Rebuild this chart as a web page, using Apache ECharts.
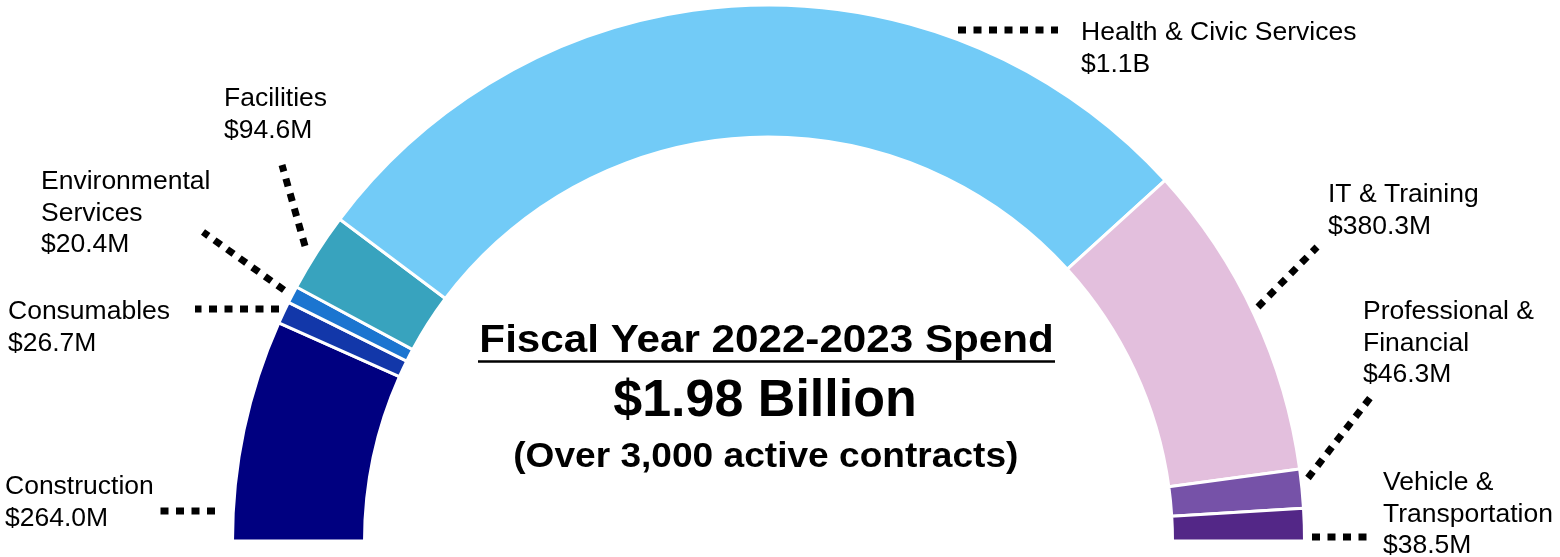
<!DOCTYPE html>
<html>
<head>
<meta charset="utf-8">
<script src="https://cdn.jsdelivr.net/npm/echarts@6/dist/echarts.min.js"></script>
<style>
  html, body { margin: 0; padding: 0; background: #ffffff; }
  #chart { width: 1560px; height: 557px; }
</style>
</head>
<body>
<div id="chart"></div>
<script>
// ---- data ----
const categories = [
  'Construction',
  'Consumables',
  'Environmental Services',
  'Facilities',
  'Health & Civic Services',
  'IT & Training',
  'Professional & Financial',
  'Vehicle & Transportation'
];
const spendMillions = [264.0, 26.7, 20.4, 94.6, 1109.0, 380.3, 46.3, 38.5];
const headline = 'Fiscal Year 2022-2023 Spend';
const totalText = '$1.98 Billion';
const contractsText = '(Over 3,000 active contracts)';

// ---- styles / layout (kept separate from data) ----
const palette = ['#000080', '#1237a9', '#1b75d0', '#38a3be', '#72cbf7', '#e3bfdd', '#7652a8', '#532787'];
const wrapWidth = [null, null, 200, null, null, null, 200, 200];
// label anchor: left x, centre y of first line
const labelPos = [[5, 487], [8, 312], [41, 182], [224, 99], [1081, 33], [1328, 195], [1363, 312], [1383, 483]];
// leader line endpoints
const leaderPts = [
  [[215, 511], [158, 511]],
  [[279, 309], [195, 309]],
  [[284, 290], [203, 232]],
  [[305, 246], [282, 165]],
  [[958, 30], [1058, 30]],
  [[1258, 307], [1317, 247]],
  [[1308, 478], [1370, 398]],
  [[1312, 537], [1367, 537]]
];
const LH = 31.5;
const FONT = '"Liberation Sans", Arial, Helvetica, sans-serif';

function fmtMoney(v) {
  return v >= 1000 ? '$' + (v / 1000).toFixed(1) + 'B' : '$' + v.toFixed(1) + 'M';
}

const pieData = categories.map((name, i) => {
  const item = { name: name, value: spendMillions[i], itemStyle: { color: palette[i] } };
  if (wrapWidth[i]) item.label = { width: wrapWidth[i], overflow: 'break' };
  return item;
});

const chart = echarts.init(document.getElementById('chart'), null, { renderer: 'canvas' });
chart.setOption({
  animation: false,
  backgroundColor: '#ffffff',
  series: [{
    type: 'pie',
    center: [768.5, 541],
    radius: [404, 536],
    startAngle: 180,
    endAngle: 0,
    clockwise: true,
    avoidLabelOverlap: false,
    silent: true,
    itemStyle: { borderColor: '#ffffff', borderWidth: 3 },
    label: {
      show: true,
      position: 'outside',
      formatter: p => p.name + '\n' + fmtMoney(p.value),
      fontFamily: FONT,
      fontSize: 26.5,
      lineHeight: LH,
      color: '#000000'
    },
    labelLine: {
      show: true,
      length: 10,
      length2: 10,
      lineStyle: { color: '#000000', width: 7, type: [8, 7.5], cap: 'butt' }
    },
    labelLayout: function (params) {
      const i = params.dataIndex;
      return {
        x: labelPos[i][0],
        y: labelPos[i][1] - LH / 2,
        align: 'left',
        verticalAlign: 'top',
        labelLinePoints: leaderPts[i]
      };
    },
    data: pieData
  }],
  graphic: [
    {
      type: 'text', x: 766.6, y: 342, scaleX: 1.11,
      style: { text: headline, x: 0, y: 0, align: 'center', verticalAlign: 'middle',
               font: 'bold 38px ' + FONT, fill: '#000000' }
    },
    {
      type: 'line',
      shape: { x1: 478, y1: 361.5, x2: 1055, y2: 361.5 },
      style: { stroke: '#000000', lineWidth: 2.5 }
    },
    {
      type: 'text', x: 765, y: 402, scaleX: 1.02,
      style: { text: totalText, x: 0, y: 0, align: 'center', verticalAlign: 'middle',
               font: 'bold 51px ' + FONT, fill: '#000000' }
    },
    {
      type: 'text', x: 765.8, y: 457, scaleX: 1.06,
      style: { text: contractsText, x: 0, y: 0, align: 'center', verticalAlign: 'middle',
               font: 'bold 35px ' + FONT, fill: '#000000' }
    }
  ]
});
</script>
</body>
</html>
